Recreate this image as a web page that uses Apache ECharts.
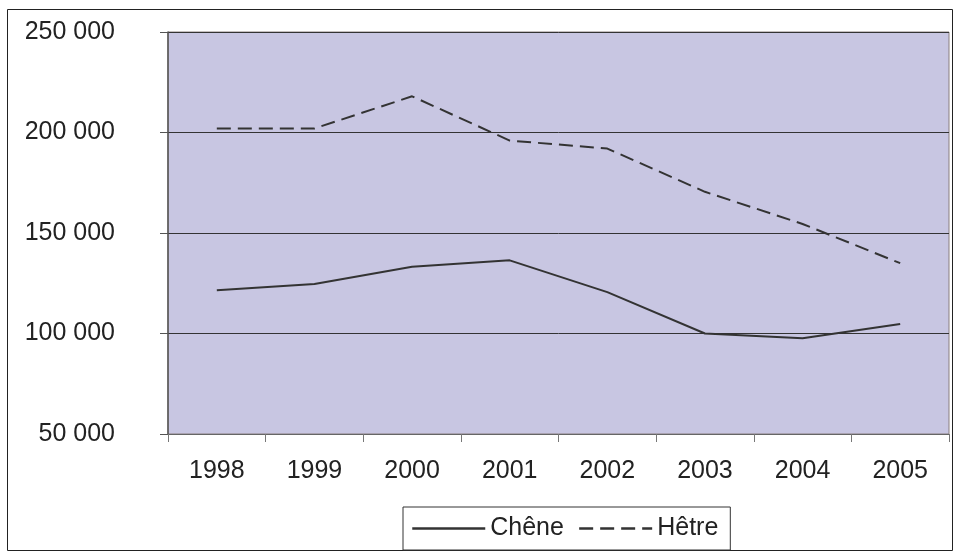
<!DOCTYPE html>
<html style="height: 100%">
<head>
    <meta charset="utf-8">
    <script src="https://cdn.jsdelivr.net/npm/echarts@6/dist/echarts.min.js"></script>
</head>
<body style="height: 100%; margin: 0; background: #fff">
    <div id="container" style="width: 954px; height: 552px"></div>
    <script type="text/javascript">
        var years = ['1998', '1999', '2000', '2001', '2002', '2003', '2004', '2005'];
        var chene = [121500, 124600, 133200, 136400, 120600, 100000, 97600, 104700];
        var hetre = [202000, 202000, 218000, 196000, 192000, 170500, 154500, 135000];
        var yTicks = [50000, 100000, 150000, 200000, 250000];

        var myChart = echarts.init(document.getElementById('container'));
        var font = 'Liberation Sans, Arial, sans-serif';

        var option = {
            animation: false,
            textStyle: { fontFamily: font },
            graphic: [{
                type: 'rect',
                shape: { x: 7.5, y: 9.5, width: 945, height: 541 },
                style: { fill: 'none', stroke: '#222', lineWidth: 1 },
                z: -1
            }],
            grid: {
                left: 168, right: 5, top: 32, bottom: 118,
                show: true,
                backgroundColor: '#c8c6e2',
                borderColor: '#8a7f7f',
                borderWidth: 1
            },
            legend: {
                bottom: 2,
                left: 403,
                data: ['Chêne', 'Hêtre'],
                itemWidth: 73,
                itemHeight: 12,
                itemGap: 14,
                padding: [9, 12, 9, 8],
                borderColor: '#333',
                borderWidth: 1,
                itemStyle: { opacity: 0 },
                lineStyle: { width: 2.5 },
                textStyle: { fontSize: 25, color: '#222', fontFamily: font, padding: [0, 0, 0, 0] }
            },
            xAxis: {
                type: 'category',
                data: years,
                boundaryGap: true,
                axisLine: { lineStyle: { color: '#666', width: 1 } },
                axisTick: { show: true, length: 8, inside: false, lineStyle: { color: '#777' } },
                axisLabel: { fontSize: 25, color: '#222', margin: 25 },
                splitLine: { show: false }
            },
            yAxis: {
                type: 'value',
                min: yTicks[0],
                max: yTicks[yTicks.length - 1],
                interval: 50000,
                axisLine: { show: true, lineStyle: { color: '#555', width: 1.5 } },
                axisTick: { show: true, length: 8, lineStyle: { color: '#555' } },
                axisLabel: {
                    fontSize: 25, color: '#222', margin: 53,
                    formatter: function (v) { return String(v).replace(/\B(?=(\d{3})+(?!\d))/g, ' '); }
                },
                splitLine: { show: true, lineStyle: { color: '#333', width: 1 } }
            },
            series: [{
                name: 'Chêne',
                type: 'line',
                data: chene,
                symbol: 'none',
                lineStyle: { color: '#333', width: 2 },
                itemStyle: { color: '#333' }
            }, {
                name: 'Hêtre',
                type: 'line',
                data: hetre,
                symbol: 'none',
                lineStyle: { color: '#333', width: 2, type: [14, 7] },
                itemStyle: { color: '#333' }
            }]
        };
        myChart.setOption(option);
    </script>
</body>
</html>
